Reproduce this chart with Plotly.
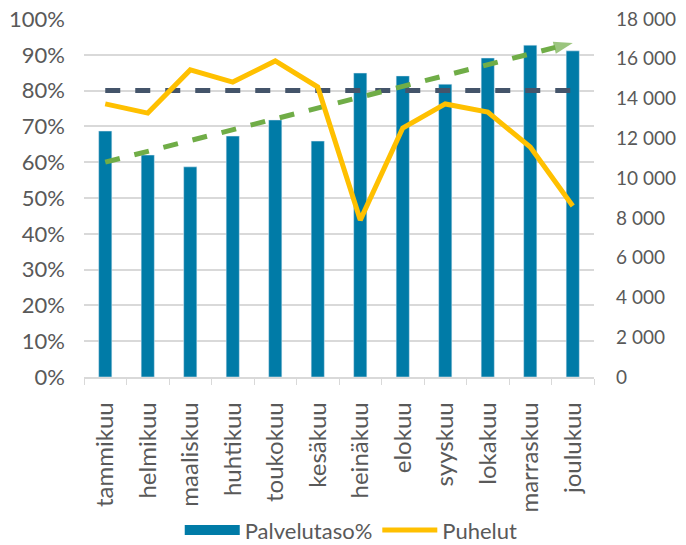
import plotly.graph_objects as go

months = ["tammikuu", "helmikuu", "maaliskuu", "huhtikuu", "toukokuu", "kesäkuu",
          "heinäkuu", "elokuu", "syyskuu", "lokakuu", "marraskuu", "joulukuu"]
palvelutaso = [0.687, 0.620, 0.587, 0.673, 0.718, 0.659,
               0.849, 0.841, 0.818, 0.891, 0.927, 0.911]
puhelut = [13730, 13270, 15440, 14830, 15890, 14580,
           7890, 12520, 13730, 13320, 11560, 8600]
target = 0.80
trend_months = ["tammikuu", "joulukuu"]
trend_values = [0.60, 0.933]

grey = "#595959"
grid = "#d9d9d9"
blue = "#007BA7"

fig = go.Figure()

fig.add_trace(go.Bar(
    x=months, y=palvelutaso, name="Palvelutaso%", showlegend=False,
    marker=dict(color=blue), width=0.31))

# legend entry only: wide swatch like the original
fig.add_trace(go.Scatter(
    x=[None], y=[None], name="Palvelutaso%", mode="lines",
    line=dict(color=blue, width=10)))

fig.add_trace(go.Scatter(
    x=months, y=[target] * len(months), mode="lines", showlegend=False,
    line=dict(color="#44546A", width=5, dash="dash")))

fig.add_trace(go.Scatter(
    x=months, y=puhelut, name="Puhelut", yaxis="y2", mode="lines",
    line=dict(color="#FFC000", width=5)))

fig.add_trace(go.Scatter(
    x=trend_months, y=trend_values, mode="lines+markers", showlegend=False,
    line=dict(color="#70AD47", width=5, dash="dash"),
    marker=dict(symbol=["circle", "arrow"], size=[0, 20], angleref="previous",
                color="#70AD47", line=dict(width=0))))

fig.update_layout(
    width=686, height=545,
    margin=dict(l=84, r=92, t=19, b=168),
    paper_bgcolor="white", plot_bgcolor="white",
    font=dict(family="Lato", size=22, color=grey),
    separators=", ",
    xaxis=dict(range=[-0.5, 11.5], tickangle=-90, ticks="outside",
               tickson="boundaries", ticklen=6, tickcolor=grid, showline=True,
               linecolor=grid, linewidth=1.5, showgrid=False,
               tickfont=dict(size=24, color=grey), ticklabelstandoff=14,
               automargin=False),
    yaxis=dict(range=[0, 1], dtick=0.1, tickformat=".0%", gridcolor=grid,
               gridwidth=1.5, zeroline=False, ticks="", ticklabelstandoff=18,
               tickfont=dict(size=22), automargin=False, ticklabeloverflow="allow"),
    yaxis2=dict(range=[0, 18000], dtick=2000, tickformat=",d", overlaying="y",
                side="right", showgrid=False, zeroline=False,
                tickfont=dict(size=19), ticklabelstandoff=21, automargin=False,
                ticklabeloverflow="allow"),
    legend=dict(orientation="h", x=0.524, xanchor="center", yref="container",
                y=0.027, yanchor="middle", itemwidth=55,
                font=dict(size=22, color=grey)),
)

# drop the default body margin so the figure fills the window exactly
fig.write_html("out.html", config={"displayModeBar": False},
               post_script="document.body.style.margin='0';")
